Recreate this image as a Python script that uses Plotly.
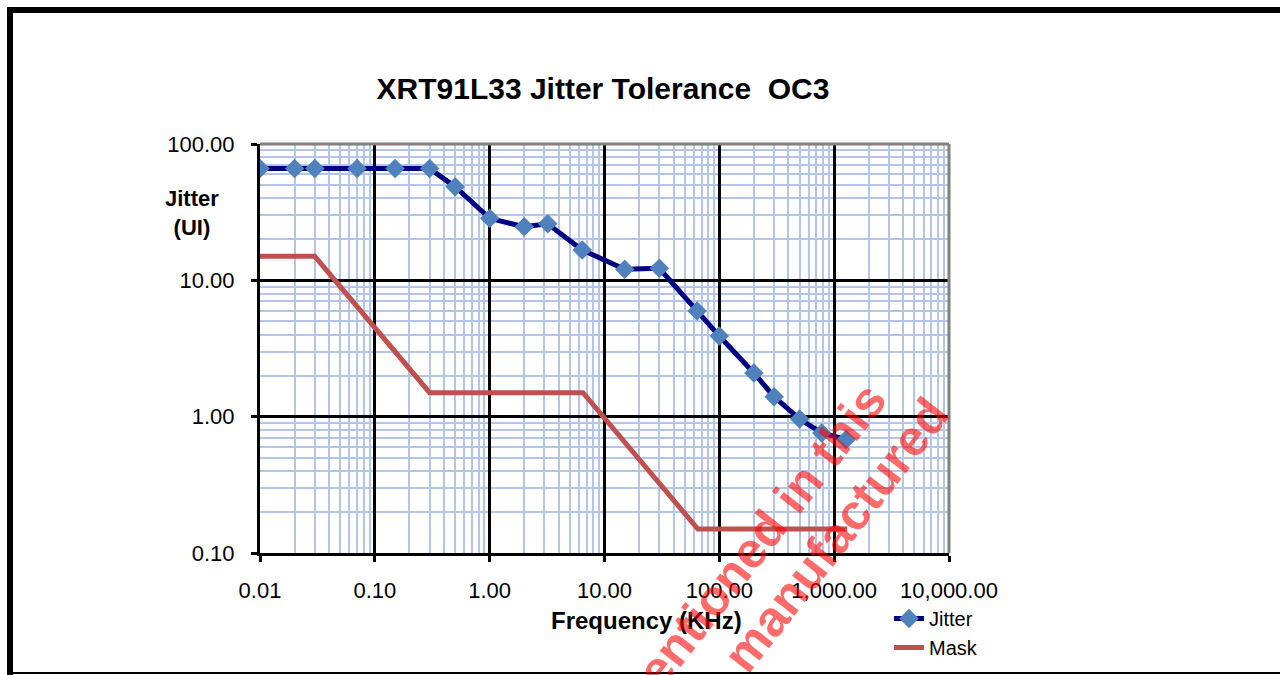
import plotly.graph_objects as go

# ---- data ----
jitter_freq_khz = [0.01, 0.02, 0.03, 0.07, 0.15, 0.3, 0.5, 1.0, 2.0, 3.2, 6.4, 15, 30, 64, 100, 200, 300, 500, 780, 1270]
jitter_ui = [66, 66, 66, 66, 66, 66, 48.6, 28.5, 24.7, 26.0, 16.7, 12.05, 12.25, 5.96, 3.9, 2.09, 1.4, 0.96, 0.76, 0.68]

mask_freq_khz = [0.01, 0.03, 0.3, 6.5, 65, 1300]
mask_ui = [15, 15, 1.5, 1.5, 0.15, 0.15]

x_tickvals = [0.01, 0.1, 1, 10, 100, 1000, 10000]
x_ticktext = ["0.01", "0.10", "1.00", "10.00", "100.00", "1,000.00", "10,000.00"]
y_tickvals = [0.1, 1, 10, 100]
y_ticktext = ["0.10", "1.00", "10.00", "100.00"]

title_text = "XRT91L33 Jitter Tolerance\u00a0\u00a0OC3"
x_title = "Frequency (KHz)"
y_title = "Jitter<br>(UI)"
watermark_1 = "mentioned in this"
watermark_2 = "manufactured"

FONT = "Liberation Sans, Arial, sans-serif"
W, H = 1280, 675
ML, MR, MT, MB = 260, 331, 144, 122
PW, PH = W - ML - MR, H - MT - MB


def px(x):
    return (x - ML) / PW


def py(y):
    return (H - MB - y) / PH


fig = go.Figure()
fig.add_trace(go.Scatter(
    x=jitter_freq_khz, y=jitter_ui, name="Jitter", mode="lines+markers",
    line=dict(color="#000080", width=5),
    marker=dict(symbol="diamond", size=15, color="#4f81bd", line=dict(width=0)),
))
fig.add_trace(go.Scatter(
    x=mask_freq_khz, y=mask_ui, name="Mask", mode="lines",
    line=dict(color="#c0504d", width=5),
))

axis_common = dict(
    type="log", showline=True, linecolor="black", linewidth=3,
    ticks="outside", ticklen=6, tickwidth=3, tickcolor="black",
    showgrid=True, gridcolor="black", gridwidth=3,
    tickfont=dict(family=FONT, size=22, color="black"),
    tickmode="array", zeroline=False,
    minor=dict(showgrid=True, gridcolor="#b3c6ea", gridwidth=2, dtick="D1", ticks=""),
)

fig.update_layout(
    width=W, height=H,
    margin=dict(l=ML, r=MR, t=MT, b=MB, pad=0, autoexpand=False),
    paper_bgcolor="white", plot_bgcolor="white",
    font=dict(family=FONT, color="black"),
    title=dict(text=title_text, x=603 / W, xref="container", xanchor="center",
               y=1 - 88 / H, yref="container", yanchor="middle",
               font=dict(family=FONT, size=30, color="black", weight="bold")),
    xaxis=dict(axis_common, range=[-2, 4], tickvals=x_tickvals, ticktext=x_ticktext,
               ticklabelstandoff=10),
    yaxis=dict(axis_common, range=[-1, 2], tickvals=y_tickvals, ticktext=y_ticktext,
               ticklabelstandoff=12),
    legend=dict(x=889 / W, y=1 - 599 / H, xref="container", yref="container",
                xanchor="left", yanchor="top",
                bgcolor="rgba(0,0,0,0)", font=dict(family=FONT, size=20, color="black"),
                tracegroupgap=0, itemwidth=30),
    showlegend=True,
)

# plot-area border (top & right grey)
fig.add_shape(type="line", xref="paper", yref="paper", x0=0, x1=1, y0=1, y1=1,
              line=dict(color="#808080", width=3), layer="above")
fig.add_shape(type="line", xref="paper", yref="paper", x0=1, x1=1, y0=0, y1=1,
              line=dict(color="#808080", width=3), layer="above")

# outer frame
fig.add_shape(type="line", xref="paper", yref="paper", x0=px(7), x1=px(1285), y0=py(10), y1=py(10),
              line=dict(color="black", width=6))
fig.add_shape(type="line", xref="paper", yref="paper", x0=px(10), x1=px(10), y0=py(7), y1=py(680),
              line=dict(color="black", width=6))
fig.add_shape(type="line", xref="paper", yref="paper", x0=px(7), x1=px(1285), y0=py(673), y1=py(673),
              line=dict(color="black", width=2))

# axis titles
fig.add_annotation(text=x_title, xref="paper", yref="paper", x=px(646), y=py(620),
                   xanchor="center", yanchor="middle", showarrow=False,
                   font=dict(family=FONT, size=24, color="black", weight="bold"))
fig.add_annotation(text=y_title, xref="paper", yref="paper", x=px(192), y=py(213),
                   xanchor="center", yanchor="middle", showarrow=False,
                   font=dict(family=FONT, size=22, color="black", weight="bold"))

# watermark
for txt, cx, cy in [(watermark_1, 748, 553), (watermark_2, 836, 535)]:
    fig.add_annotation(text=txt, xref="paper", yref="paper", x=px(cx), y=py(cy),
                       xanchor="center", yanchor="middle", showarrow=False, textangle=-52,
                       font=dict(family=FONT, size=50, color="rgba(255,0,0,0.58)", weight="bold"))

fig.write_html("out.html", config={"displayModeBar": False},
               post_script="document.body.style.margin='0';document.body.style.overflow='hidden';")
